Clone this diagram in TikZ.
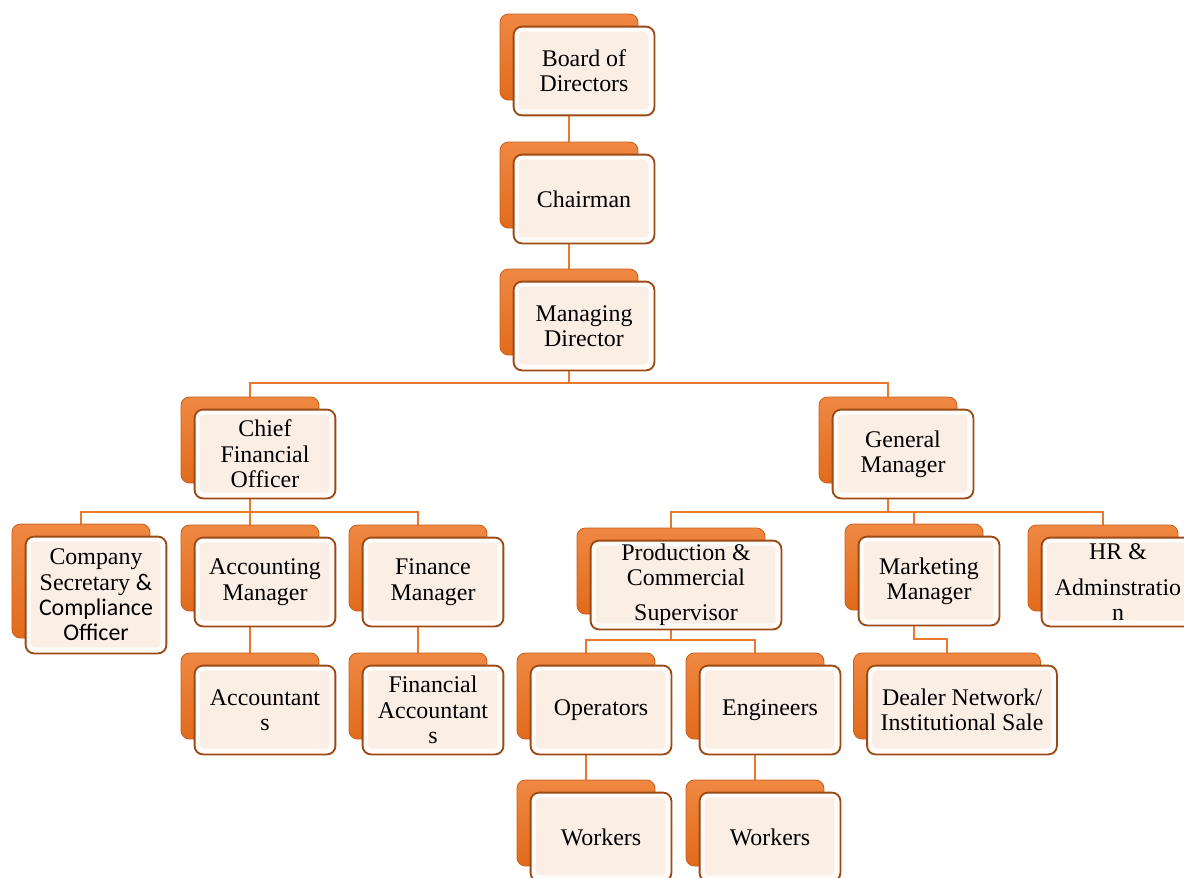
\documentclass[tikz,border=0pt]{standalone}
\usepackage{fontspec}
\setmainfont{Liberation Serif}
\newfontfamily\calibri{Carlito}
\usetikzlibrary{backgrounds}
\definecolor{backtop}{HTML}{EF8842}
\definecolor{backbottom}{HTML}{E26B1C}
\definecolor{backline}{HTML}{C95F1C}
\definecolor{frontline}{HTML}{9C4A14}
\definecolor{frontface}{HTML}{FBEEE5}
\definecolor{frontrim}{HTML}{FEFBF9}
\definecolor{linkorange}{HTML}{E8792F}
% back card + front card, #2/#3 = centre of back card, #4/#5 = size in px
\newcommand{\orgbox}[6]{%
  \pgfmathsetmacro{\boxw}{#4*0.025}
  \pgfmathsetmacro{\boxh}{#5*0.025}
  \node[backbox, minimum width=\boxw cm, minimum height=\boxh cm] (#1back) at (#2,#3) {};
  \node[frontbox, minimum width=\boxw cm+2pt, minimum height=\boxh cm+2pt] (#1) at (#2+15,#3+14) {#6};
}

\begin{document}
\begin{tikzpicture}[
		x=0.025cm, y=-0.025cm,
		font=\fontsize{17}{18}\selectfont,
		backbox/.style={rounded corners=6pt, draw=backline, line width=0.6pt,
			top color=backtop, bottom color=backbottom, inner sep=0pt},
		frontbox/.style={rounded corners=6pt, draw=frontline, line width=1.3pt,
			fill=frontrim, align=center, inner sep=0pt,
			path picture={\fill[frontface, rounded corners=3pt]
				([shift={(0.13cm,0.15cm)}]path picture bounding box.south west) rectangle
				([shift={(-0.15cm,-0.13cm)}]path picture bounding box.north east);}},
		link/.style={draw=linkorange, line width=2.1pt},
	]

	\useasboundingbox (0,0) rectangle (1184,877);
	\clip (0,0) rectangle (1184,877);

	% bus heights
	\coordinate (busTop) at (0,383);
	\coordinate (busCfo) at (0,512);
	\coordinate (busGm) at (0,512);
	\coordinate (busPcs) at (0,640);
	\coordinate (busMkt) at (0,639);

	% top chain
	\orgbox{bod}{569}{57}{138}{86}{Board of\\Directors}
	\orgbox{chair}{569}{185}{138}{86}{Chairman}
	\orgbox{md}{569}{312}{138}{86}{Managing\\Director}

	% second level
	\orgbox{cfo}{250}{440}{138}{86}{Chief\\Financial\\Officer}
	\orgbox{gm}{888}{440}{138}{86}{General\\Manager}

	% finance side
	\orgbox{cs}{81}{581}{138}{114}{Company\\Secretary {\calibri\&}\\{\calibri Compliance}\\{\calibri Officer}}
	\orgbox{acm}{250}{568}{138}{86}{Accounting\\Manager}
	\orgbox{fm}{418}{568}{138}{86}{Finance\\Manager}
	\orgbox{acc}{250}{696}{138}{86}{Accountant\\s}
	\orgbox{facc}{418}{696}{138}{86}{Financial\\Accountant\\s}

	% general manager side
	\orgbox{pcs}{671}{571}{188}{86}{Production \&\\Commercial\\[7pt]Supervisor}
	\orgbox{mkt}{914}{567}{138}{86}{Marketing\\Manager}
	\orgbox{hr}{1103}{568}{150}{86}{HR \&\\[8pt]Adminstratio\\n}
	\orgbox{op}{586}{696}{138}{86}{Operators}
	\orgbox{eng}{755}{696}{138}{86}{Engineers}
	\orgbox{dealer}{947}{696}{187}{86}{Dealer Network/\\Institutional Sale}
	\orgbox{wkA}{586}{823}{138}{86}{Workers}
	\orgbox{wkB}{755}{823}{138}{86}{Workers}

	% connectors behind the cards
	\begin{scope}[on background layer]
		\draw[link] (bodback.center) -- (chairback.center);
		\draw[link] (chairback.center) -- (mdback.center);
		\foreach \kid in {cfo,gm}
			\draw[link] (mdback.center) -- (mdback.center |- busTop) -| (\kid back.center);
		\foreach \kid in {cs,acm,fm}
			\draw[link] (cfoback.center) -- (cfoback.center |- busCfo) -| (\kid back.center);
		\foreach \kid in {pcs,mkt,hr}
			\draw[link] (gmback.center) -- (gmback.center |- busGm) -| (\kid back.center);
		\foreach \kid in {op,eng}
			\draw[link] (pcsback.center) -- (pcsback.center |- busPcs) -| (\kid back.center);
		\draw[link] (mktback.center) -- (mktback.center |- busMkt) -| (dealerback.center);
		\draw[link] (acmback.center) -- (accback.center);
		\draw[link] (fmback.center) -- (faccback.center);
		\draw[link] (opback.center) -- (wkAback.center);
		\draw[link] (engback.center) -- (wkBback.center);
	\end{scope}

\end{tikzpicture}
\end{document}
